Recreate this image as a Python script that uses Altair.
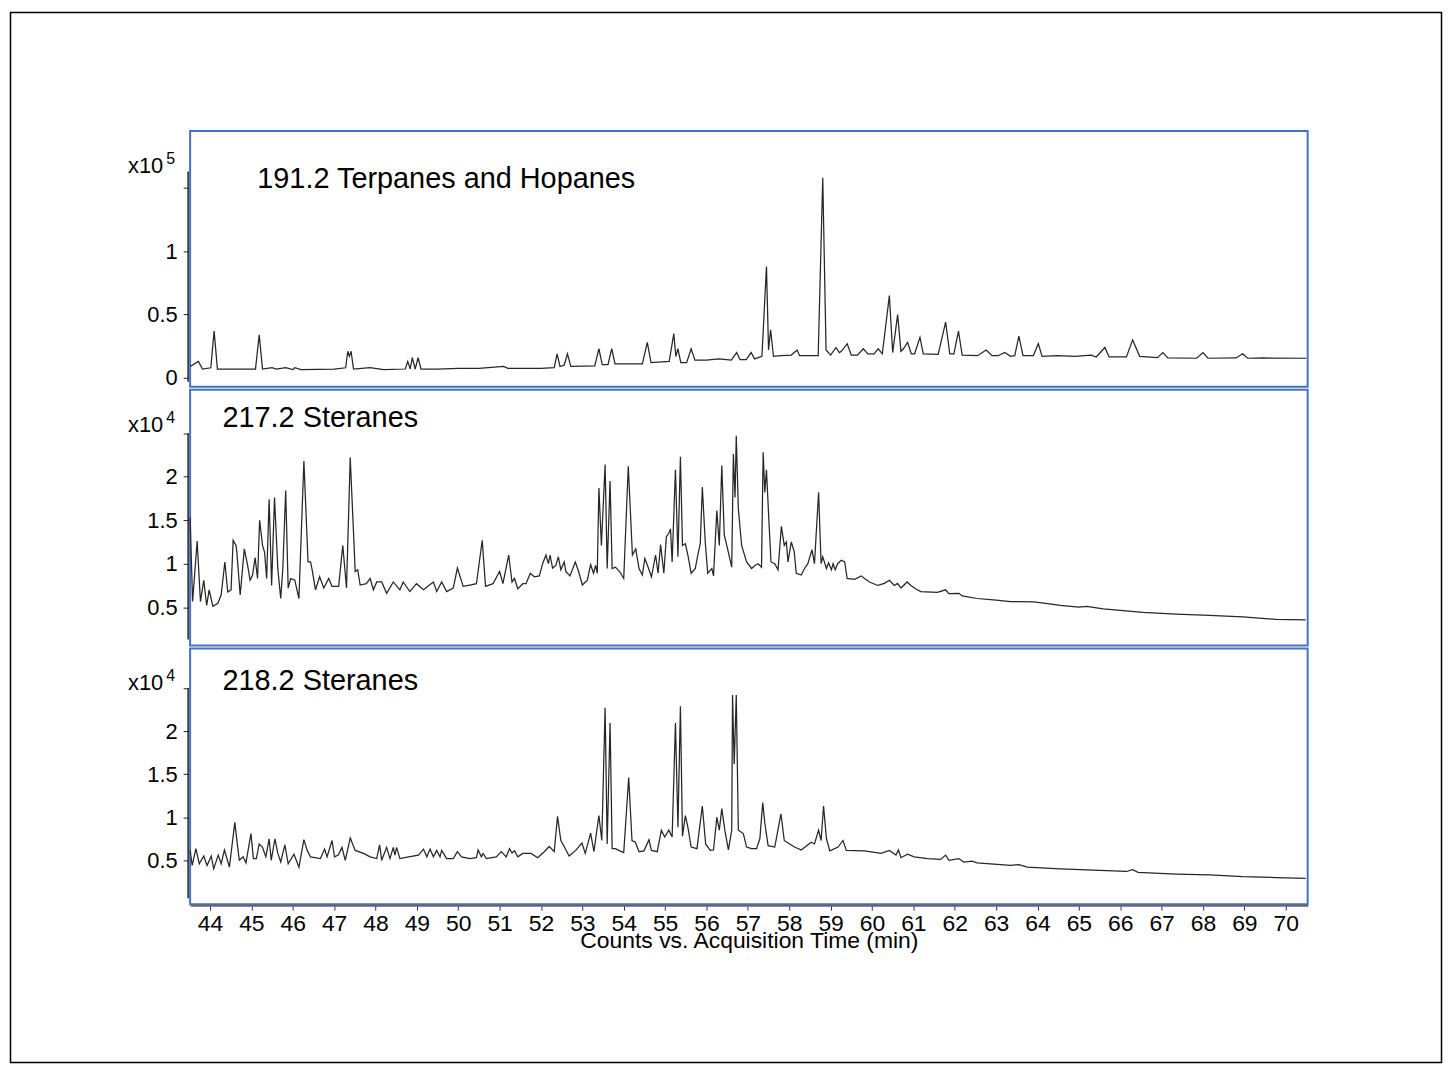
import altair as alt
import pandas as pd

# ---------------- data ----------------
# m/z 191.2 trace, values in units of 1e5 counts
t191 = [43.52, 43.72, 43.82, 44.02, 44.10, 44.18, 44.60, 45.10, 45.19, 45.27, 45.50, 45.60, 45.83, 46.00,
        46.05, 46.20, 47.00, 47.28, 47.33, 47.37, 47.41, 47.47, 47.87, 48.20, 48.72, 48.78, 48.84, 48.89,
        48.96, 49.03, 49.10, 49.50, 50.00, 50.50, 51.10, 51.20, 52.00, 52.32, 52.39, 52.46, 52.56, 52.64,
        52.72, 53.30, 53.40, 53.48, 53.62, 53.71, 53.79, 54.45, 54.57, 54.66, 55.10, 55.21, 55.26, 55.31,
        55.38, 55.52, 55.63, 55.72, 56.00, 56.30, 56.60, 56.73, 56.81, 56.96, 57.08, 57.16, 57.34, 57.45,
        57.50, 57.55, 57.62, 57.80, 58.05, 58.19, 58.25, 58.70, 58.81, 58.89, 59.00, 59.13, 59.21, 59.26,
        59.40, 59.50, 59.65, 59.79, 59.90, 60.05, 60.15, 60.25, 60.42, 60.50, 60.62, 60.70, 60.76, 60.86,
        60.95, 61.03, 61.16, 61.24, 61.60, 61.78, 61.88, 61.98, 62.09, 62.18, 62.55, 62.76, 62.90, 63.05,
        63.21, 63.35, 63.45, 63.55, 63.65, 63.90, 64.02, 64.11, 64.50, 64.90, 65.30, 65.42, 65.63, 65.73,
        66.15, 66.30, 66.47, 66.90, 67.03, 67.15, 67.85, 68.00, 68.12, 68.80, 68.96, 69.08, 69.45, 70.50]
v191 = [0.09, 0.13, 0.07, 0.08, 0.37, 0.07, 0.07, 0.07, 0.34, 0.07, 0.08, 0.07, 0.08, 0.065,
        0.08, 0.065, 0.07, 0.08, 0.21, 0.17, 0.21, 0.07, 0.08, 0.065, 0.07, 0.13, 0.07, 0.16,
        0.07, 0.16, 0.07, 0.07, 0.075, 0.075, 0.09, 0.075, 0.075, 0.08, 0.19, 0.09, 0.10, 0.19,
        0.09, 0.095, 0.23, 0.105, 0.105, 0.23, 0.11, 0.11, 0.28, 0.12, 0.13, 0.35, 0.17, 0.23,
        0.12, 0.12, 0.23, 0.14, 0.14, 0.15, 0.14, 0.20, 0.145, 0.145, 0.20, 0.15, 0.17, 0.88,
        0.22, 0.38, 0.17, 0.175, 0.18, 0.22, 0.175, 0.175, 1.58, 0.22, 0.18, 0.24, 0.20, 0.21,
        0.27, 0.18, 0.18, 0.23, 0.19, 0.19, 0.23, 0.19, 0.65, 0.20, 0.50, 0.21, 0.23, 0.28,
        0.19, 0.19, 0.32, 0.19, 0.185, 0.44, 0.19, 0.19, 0.37, 0.18, 0.175, 0.22, 0.175, 0.175,
        0.20, 0.17, 0.175, 0.33, 0.175, 0.175, 0.27, 0.17, 0.175, 0.17, 0.18, 0.165, 0.24, 0.165,
        0.165, 0.30, 0.17, 0.16, 0.20, 0.157, 0.155, 0.20, 0.155, 0.157, 0.19, 0.155, 0.157, 0.155]

# m/z 217.2 trace, values in units of 1e4 counts
t217 = [43.52, 43.58, 43.69, 43.77, 43.85, 43.92, 43.98, 44.07, 44.19, 44.27, 44.36, 44.43, 44.51, 44.56,
        44.63, 44.65, 44.73, 44.83, 44.91, 44.97, 45.03, 45.09, 45.15, 45.20, 45.27, 45.32, 45.37, 45.43,
        45.49, 45.56, 45.64, 45.71, 45.76, 45.83, 45.89, 45.95, 46.05, 46.15, 46.27, 46.37, 46.43, 46.47,
        46.55, 46.65, 46.75, 46.87, 46.95, 47.11, 47.21, 47.30, 47.39, 47.51, 47.57, 47.63, 47.78, 47.87,
        47.95, 48.03, 48.15, 48.27, 48.43, 48.59, 48.67, 48.83, 48.99, 49.16, 49.40, 49.48, 49.60, 49.72,
        49.88, 49.98, 50.12, 50.28, 50.44, 50.58, 50.66, 50.84, 51.00, 51.08, 51.22, 51.30, 51.36, 51.44,
        51.56, 51.64, 51.74, 51.84, 51.96, 52.04, 52.12, 52.18, 52.22, 52.28, 52.36, 52.42, 52.48, 52.56,
        52.60, 52.70, 52.83, 52.91, 53.00, 53.12, 53.20, 53.27, 53.32, 53.36, 53.40, 53.46, 53.55, 53.60,
        53.67, 53.72, 53.80, 53.90, 54.00, 54.11, 54.21, 54.29, 54.37, 54.45, 54.51, 54.59, 54.67, 54.77,
        54.83, 54.89, 54.97, 55.03, 55.09, 55.13, 55.17, 55.25, 55.31, 55.37, 55.42, 55.49, 55.55, 55.63,
        55.73, 55.79, 55.85, 55.90, 55.97, 56.03, 56.13, 56.17, 56.25, 56.31, 56.37, 56.43, 56.51, 56.61,
        56.65, 56.69, 56.72, 56.77, 56.85, 56.97, 57.09, 57.17, 57.25, 57.33, 57.37, 57.41, 57.45, 57.51,
        57.56, 57.65, 57.73, 57.81, 57.88, 57.93, 57.97, 58.05, 58.12, 58.17, 58.29, 58.37, 58.45, 58.55,
        58.61, 58.71, 58.77, 58.81, 58.90, 58.95, 59.02, 59.06, 59.11, 59.17, 59.26, 59.34, 59.40, 59.58,
        59.74, 59.82, 59.94, 60.14, 60.30, 60.42, 60.54, 60.62, 60.70, 60.85, 60.94, 61.06, 61.18, 61.58,
        61.78, 61.86, 62.10, 62.18, 62.54, 63.00, 63.35, 63.91, 64.20, 64.55, 65.00, 65.19, 65.59, 66.55,
        67.35, 68.16, 68.96, 69.76, 70.48]
v217 = [1.53, 0.565, 1.26, 0.565, 0.81, 0.52, 0.70, 0.51, 0.545, 0.64, 1.02, 0.675, 0.70, 1.27,
        1.21, 1.13, 0.64, 1.17, 0.98, 0.81, 0.87, 1.07, 0.83, 1.50, 1.21, 1.13, 0.83, 1.74,
        0.75, 1.76, 0.94, 0.60, 0.94, 1.84, 0.72, 0.83, 0.81, 0.60, 2.18, 1.02, 1.02, 0.93,
        0.70, 0.85, 0.72, 0.83, 0.74, 0.74, 1.21, 0.72, 2.22, 0.91, 0.93, 0.755, 0.77, 0.83,
        0.70, 0.79, 0.79, 0.66, 0.79, 0.70, 0.79, 0.68, 0.77, 0.70, 0.79, 0.68, 0.79, 0.68,
        0.72, 0.95, 0.74, 0.755, 0.77, 1.27, 0.74, 0.77, 0.91, 0.77, 1.10, 0.79, 0.83, 0.71,
        0.77, 0.77, 0.89, 0.85, 0.86, 1.00, 1.10, 1.00, 1.10, 0.95, 0.98, 1.08, 0.93, 1.02,
        0.91, 0.86, 1.02, 0.91, 0.755, 0.81, 0.99, 0.89, 0.98, 0.89, 1.87, 1.21, 2.14, 0.945,
        1.95, 0.945, 0.96, 0.91, 0.83, 2.12, 1.10, 1.17, 0.945, 0.87, 1.06, 0.96, 0.85, 1.10,
        0.89, 1.22, 0.89, 1.31, 1.35, 1.40, 1.02, 2.08, 1.08, 2.23, 1.21, 1.23, 1.10, 0.89,
        0.945, 1.10, 1.23, 1.88, 1.25, 0.89, 0.945, 0.86, 1.61, 1.21, 2.13, 1.33, 1.17, 0.96,
        2.26, 1.76, 2.47, 1.63, 1.21, 1.02, 0.945, 0.98, 1.00, 0.96, 2.28, 1.82, 2.08, 1.48,
        1.02, 1.00, 0.93, 1.43, 1.21, 1.25, 1.02, 1.25, 1.14, 0.89, 0.87, 0.945, 1.00, 1.16,
        1.00, 1.82, 1.00, 1.08, 0.945, 1.01, 0.93, 1.00, 0.93, 1.00, 1.04, 1.02, 0.83, 0.82,
        0.86, 0.83, 0.79, 0.75, 0.774, 0.81, 0.75, 0.774, 0.72, 0.79, 0.75, 0.71, 0.68, 0.67,
        0.70, 0.655, 0.66, 0.63, 0.60, 0.58, 0.565, 0.56, 0.545, 0.52, 0.50, 0.51, 0.48, 0.44,
        0.42, 0.405, 0.39, 0.36, 0.353]

# m/z 218.2 trace, values in units of 1e4 counts
t218 = [43.52, 43.57, 43.66, 43.74, 43.85, 43.93, 44.03, 44.09, 44.20, 44.27, 44.35, 44.47, 44.60, 44.67,
        44.71, 44.80, 44.87, 44.99, 45.05, 45.12, 45.19, 45.27, 45.35, 45.43, 45.48, 45.57, 45.64, 45.71,
        45.81, 45.89, 46.03, 46.15, 46.27, 46.35, 46.43, 46.67, 46.77, 46.83, 46.95, 47.01, 47.10, 47.19,
        47.27, 47.39, 47.51, 47.71, 47.87, 48.03, 48.10, 48.15, 48.27, 48.35, 48.43, 48.47, 48.51, 48.59,
        48.80, 49.04, 49.16, 49.24, 49.32, 49.40, 49.48, 49.56, 49.60, 49.72, 49.88, 49.98, 50.08, 50.28,
        50.44, 50.48, 50.56, 50.60, 50.68, 50.92, 51.04, 51.16, 51.24, 51.30, 51.36, 51.44, 51.56, 51.76,
        51.92, 52.08, 52.20, 52.32, 52.40, 52.48, 52.56, 52.68, 52.84, 52.99, 53.07, 53.20, 53.28, 53.40,
        53.47, 53.55, 53.60, 53.67, 53.72, 53.80, 53.88, 54.00, 54.12, 54.20, 54.28, 54.37, 54.49, 54.61,
        54.67, 54.81, 54.91, 54.99, 55.09, 55.17, 55.25, 55.31, 55.37, 55.42, 55.49, 55.55, 55.63, 55.77,
        55.90, 55.98, 56.09, 56.17, 56.25, 56.31, 56.37, 56.45, 56.53, 56.61, 56.63, 56.67, 56.72, 56.77,
        56.89, 56.97, 57.09, 57.21, 57.29, 57.36, 57.41, 57.49, 57.65, 57.80, 57.88, 58.01, 58.13, 58.29,
        58.53, 58.61, 58.71, 58.77, 58.83, 58.90, 58.98, 59.18, 59.30, 59.38, 59.82, 60.22, 60.42, 60.58,
        60.64, 60.70, 60.86, 61.02, 61.34, 61.66, 61.78, 61.86, 62.10, 62.22, 62.42, 62.54, 63.35, 63.55,
        63.75, 64.55, 65.35, 66.15, 66.30, 66.43, 67.35, 68.16, 68.96, 69.76, 70.48]
v218 = [0.615, 0.44, 0.635, 0.46, 0.55, 0.44, 0.55, 0.40, 0.56, 0.46, 0.62, 0.42, 0.94, 0.65,
        0.50, 0.54, 0.47, 0.81, 0.52, 0.52, 0.69, 0.65, 0.54, 0.75, 0.50, 0.75, 0.58, 0.48,
        0.68, 0.46, 0.57, 0.42, 0.74, 0.615, 0.54, 0.52, 0.63, 0.54, 0.73, 0.54, 0.56, 0.65,
        0.50, 0.76, 0.615, 0.58, 0.54, 0.52, 0.68, 0.50, 0.65, 0.52, 0.65, 0.56, 0.65, 0.52,
        0.54, 0.56, 0.63, 0.54, 0.63, 0.54, 0.615, 0.54, 0.615, 0.52, 0.52, 0.60, 0.54, 0.52,
        0.53, 0.62, 0.54, 0.58, 0.52, 0.54, 0.60, 0.54, 0.635, 0.585, 0.61, 0.54, 0.58, 0.58,
        0.53, 0.60, 0.66, 0.60, 1.01, 0.73, 0.66, 0.55, 0.615, 0.70, 0.58, 0.815, 0.60, 1.02,
        0.73, 2.27, 0.69, 2.095, 0.635, 0.635, 0.615, 0.59, 1.46, 0.73, 0.71, 0.60, 0.61, 0.74,
        0.615, 0.60, 0.85, 0.77, 0.85, 0.77, 2.095, 0.885, 2.29, 0.78, 1.02, 0.885, 0.654, 0.635,
        1.13, 0.69, 0.615, 0.62, 1.00, 0.85, 1.10, 0.83, 0.62, 0.85, 2.42, 1.615, 2.42, 0.85,
        0.81, 0.654, 0.635, 0.635, 0.75, 1.17, 0.93, 0.67, 0.654, 1.04, 0.73, 0.69, 0.654, 0.62,
        0.71, 0.69, 0.85, 0.73, 1.13, 0.75, 0.61, 0.654, 0.73, 0.615, 0.61, 0.58, 0.615, 0.56,
        0.62, 0.53, 0.57, 0.54, 0.52, 0.51, 0.56, 0.50, 0.52, 0.48, 0.49, 0.47, 0.44, 0.45,
        0.42, 0.40, 0.385, 0.37, 0.39, 0.36, 0.34, 0.33, 0.31, 0.30, 0.29]

x_ticks = list(range(44, 71))
panel_titles = ["191.2 Terpanes and Hopanes", "217.2 Steranes", "218.2 Steranes"]
exponents = ["5", "4", "4"]
x_title = "Counts vs. Acquisition Time (min)"

FONT = "Liberation Sans"
BLUE = "#4472c4"
W, H = 1123, 257
XDOM = [43.52, 70.53]


def panel(t, v, ydom, yvals, hide_above, title, tx, ty, expo, ax_top, ax_bot, show_x, frame=False):
    df = pd.DataFrame({"t": t, "v": v})
    if show_x:
        xaxis = alt.Axis(values=x_ticks, format="d", title=x_title, grid=False,
                         labelFont=FONT, titleFont=FONT, labelFontSize=23, titleFontSize=23,
                         titleFontWeight="normal", labelColor="black", titleColor="black",
                         tickSize=5, tickColor="#333", domainColor="#666", domainWidth=2,
                         offset=1, labelPadding=2, titleY=42, titleBaseline="alphabetic")
    else:
        xaxis = None
    yaxis = alt.Axis(values=yvals, grid=False, domain=False, title=None, offset=2,
                     tickSize=5, tickColor="#222", labelColor="black", labelFont=FONT,
                     labelFontSize=22, labelPadding=6,
                     labelExpr=f"datum.value > {hide_above} ? '' : format(datum.value, '~g')")
    line = alt.Chart(df).mark_line(color="#262626", strokeWidth=1.25).encode(
        x=alt.X("t:Q", scale=alt.Scale(domain=XDOM, nice=False, zero=False), axis=xaxis),
        y=alt.Y("v:Q", scale=alt.Scale(domain=ydom, nice=False, zero=False), axis=yaxis),
    )
    one = pd.DataFrame({"k": [0]})
    yline = alt.Chart(one).mark_rule(color="#222", strokeWidth=1.5).encode(
        x=alt.value(-2), y=alt.datum(ax_top), y2=alt.datum(ax_bot))
    ttl = alt.Chart(pd.DataFrame({"s": [title]})).mark_text(
        align="left", baseline="alphabetic", font=FONT, fontSize=29, color="black").encode(
        text="s:N", x=alt.value(tx), y=alt.value(ty))
    x10 = alt.Chart(pd.DataFrame({"s": ["x10"]})).mark_text(
        align="right", baseline="alphabetic", font=FONT, fontSize=22, color="black").encode(
        text="s:N", x=alt.value(-27), y=alt.value(42))
    ex = alt.Chart(pd.DataFrame({"s": [expo]})).mark_text(
        align="left", baseline="alphabetic", font=FONT, fontSize=16, color="black").encode(
        text="s:N", x=alt.value(-24), y=alt.value(33))
    layers = [line, yline, ttl, x10, ex]
    if frame:
        fr = alt.Chart(one).mark_rect(fillOpacity=0, stroke="black", strokeWidth=1.5).encode(
            x=alt.value(-180.5), x2=alt.value(1257.5), y=alt.value(-119), y2=alt.value(936))
        layers.append(fr)
    return alt.layer(*layers).properties(width=W, height=H)


p1 = panel(t191, v191, [-0.07, 1.95], [0, 0.5, 1, 1.5], 1.45, panel_titles[0], 67.5, 57,
           exponents[0], 1.63, -0.03, False, frame=True)
p2 = panel(t217, v217, [0.06, 3.0], [0.5, 1, 1.5, 2, 2.5], 2.45, panel_titles[1], 32.5, 37,
           exponents[1], 2.5, 0.13, False)
p3 = panel(t218, v218, [-0.01, 2.96], [0.5, 1, 1.5, 2, 2.5], 2.45, panel_titles[2], 32.5, 42,
           exponents[2], 2.5, 0.06, True)

chart = alt.vconcat(p1, p2, p3, spacing=3, bounds="flush").properties(
    padding=0, background="white"
).configure_view(stroke=BLUE, strokeWidth=2)

chart.save("out.html", embed_options={"renderer": "svg", "actions": False})
